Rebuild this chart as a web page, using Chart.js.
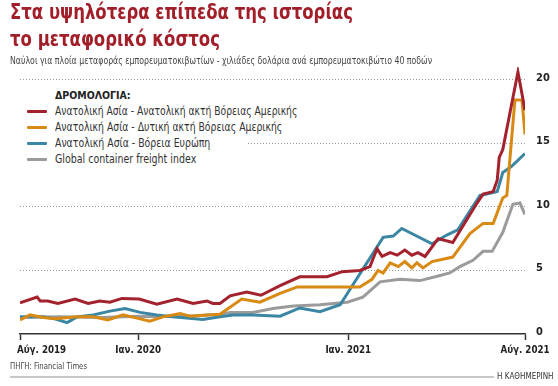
<!DOCTYPE html>
<html>
<head>
<meta charset="utf-8">
<script src="https://cdn.jsdelivr.net/npm/chart.js@4"></script>
<style>
  html, body { margin:0; padding:0; background:#fff; }
  body { width:558px; height:386px; position:relative; overflow:hidden;
         font-family:'DejaVu Sans Condensed','DejaVu Sans',sans-serif; }
  #c { position:absolute; left:0; top:0; }
  .fit { position:absolute; white-space:nowrap; display:inline-block; transform-origin:0 0; }
  .t1, .t2 { left:10px; color:#a21f2a; font-size:21px; line-height:24px; font-weight:bold; }
  .t1 { top:0px; }
  .t2 { top:27px; }
  .sub { left:10px; top:54px; color:#444; font-size:11px; line-height:13px; }
  .legend { position:absolute; left:18px; top:87px; width:230px; height:80px; background:#fff; }
  .legend .hd { position:absolute; left:37px; top:2px; font-size:10.5px; font-weight:bold; color:#222; }
  .legend .it { position:absolute; left:9px; height:15px; white-space:nowrap; background:#fff; }
  .legend .sw { position:absolute; left:0; top:6px; width:20px; height:3px; border-radius:1px; }
  .legend .tx { position:absolute; left:28px; top:0; font-size:11.5px; line-height:15px; color:#333; white-space:nowrap; transform-origin:0 0; background:#fff; padding-right:3px; }
  .src { left:10px; top:361px; font-size:9px; color:#444; }
  .bar { position:absolute; left:10px; top:376px; width:484px; height:2px; background:#c8c8c8; }
  .brand { position:absolute; left:497px; top:372px; font-size:8px; color:#333; }
</style>
</head>
<body>
<canvas id="c" width="558" height="386"></canvas>
<div class="fit t1" data-w="343">Στα υψηλότερα επίπεδα της ιστορίας</div>
<div class="fit t2" data-w="210">το μεταφορικό κόστος</div>
<div class="fit sub" data-w="422">Ναύλοι για πλοία μεταφοράς εμπορευματοκιβωτίων - χιλιάδες δολάρια ανά εμπορευματοκιβώτιο 40 ποδών</div>
<div class="legend" id="legend"><div class="hd">ΔΡΟΜΟΛΟΓΙΑ:</div></div>
<div class="fit src" data-w="77">ΠΗΓΗ: Financial Times</div>
<div class="bar"></div>
<div class="brand">Η ΚΑΘΗΜΕΡΙΝΗ</div>
<script>
// Time position on the horizontal axis (0 = Aug 2019, 100 = Aug 2021), values in thousand USD per 40ft container
const seriesNames = [
  'Ανατολική Ασία - Ανατολική ακτή Βόρειας Αμερικής',
  'Ανατολική Ασία - Δυτική ακτή Βόρειας Αμερικής',
  'Ανατολική Ασία - Βόρεια Ευρώπη',
  'Global container freight index'
];
const seriesColors = ['#a3222d', '#d88a14', '#3b87a3', '#9b9b9b'];
const legendWidths = [245, 230, 158, 144];

const eastCoastT = [0,3.4,4.0,5.5,7.5,10.9,13.5,15.8,17.8,20.2,23.6,27.1,31.1,34.3,37.0,38.2,39.6,41.6,44.9,47.7,51.5,55.4,60.8,63.8,67.3,69.3,70.7,71.7,73.3,74.7,76.2,77.6,78.8,80.2,82.8,85.7,90.5,91.7,93.7,94.5,94.9,95.6,98.6,100];
const eastCoast  = [2.45,2.9,2.6,2.6,2.4,2.75,2.4,2.6,2.5,2.8,2.75,2.35,2.75,2.4,2.6,2.4,2.4,3.0,3.3,3.05,3.8,4.5,4.5,4.9,5.0,5.3,6.7,6.1,6.4,6.2,6.6,6.2,6.4,6.1,7.5,7.2,10.3,11.0,11.2,12.1,13.9,14.5,20.6,17.6];

const westCoastT = [0,2.0,4.6,6.9,11.3,14.5,17.4,20.4,23.2,25.7,28.3,31.7,33.7,37.0,39.6,43.9,47.5,51.5,54.9,64.8,67.3,69.7,70.9,71.9,73.3,74.9,76.2,77.6,78.6,79.8,81.6,85.7,89.1,91.7,93.7,95.6,96.4,98.0,99.4,100];
const westCoast  = [1.1,1.5,1.3,1.2,1.35,1.35,1.1,1.5,1.25,1.0,1.35,1.6,1.4,1.5,1.55,2.75,2.5,3.2,3.7,3.7,3.7,4.3,5.0,4.8,5.6,5.3,5.7,5.2,5.6,5.2,5.7,6.05,7.9,8.7,8.7,10.7,10.9,18.4,18.4,15.7];

const northEuropeT = [0,4.6,6.9,9.3,11.3,14.5,17.8,20.8,23.8,27.1,30.3,36.2,39.6,42.2,46.1,51.5,55.4,59.4,63.4,71.9,73.9,75.6,81.6,84.6,86.7,91.1,93.5,94.5,95.6,97.4,100];
const northEurope  = [1.35,1.35,1.2,0.9,1.35,1.5,1.8,2.0,1.7,1.5,1.35,1.15,1.35,1.5,1.5,1.4,2.05,1.75,2.3,7.6,7.7,8.3,7.1,7.8,8.2,10.9,11.1,11.2,12.7,13.2,14.2];

const globalIndexT = [0,7.9,15.8,23.8,31.7,39.6,41.6,46.1,50.1,54.1,59.4,64.8,67.9,71.3,75.2,79.2,83.2,85.1,87.1,89.7,91.7,93.5,95.6,97.6,99.0,100];
const globalIndex  = [1.3,1.35,1.3,1.4,1.35,1.55,1.7,1.7,2.0,2.2,2.3,2.5,2.9,4.1,4.3,4.2,4.6,4.8,5.3,5.8,6.5,6.5,8.0,10.2,10.3,9.4];

const xTickPos = [0, 23.4, 65, 100];
const xTickLabels = ['Αύγ. 2019', 'Ιαν. 2020', 'Ιαν. 2021', 'Αύγ. 2021'];
const yTickValues = [0, 5, 10, 15, 20];

const tList = [eastCoastT, westCoastT, northEuropeT, globalIndexT];
const vList = [eastCoast, westCoast, northEurope, globalIndex];

const FONT = "'DejaVu Sans Condensed','DejaVu Sans',sans-serif";

function fitWidth(el, w) {
  el.style.transform = 'none';
  const nat = el.getBoundingClientRect().width;
  if (nat > 0) el.style.transform = 'scaleX(' + (w / nat) + ')';
}

// HTML legend
const lg = document.getElementById('legend');
seriesNames.forEach((n, i) => {
  const d = document.createElement('div');
  d.className = 'it';
  d.style.top = (17 + i * 16) + 'px';
  d.innerHTML = '<span class="sw" style="background:' + seriesColors[i] + '"></span><span class="tx">' + n + '</span>';
  lg.appendChild(d);
  fitWidth(d.querySelector('.tx'), legendWidths[i]);
});
document.querySelectorAll('.fit').forEach(el => fitWidth(el, +el.dataset.w));

const xLabelPlugin = {
  id: 'xLabels',
  afterDraw(chart) {
    const sc = chart.scales.x;
    const ctx = chart.ctx;
    ctx.save();
    ctx.font = 'bold 11px ' + FONT;
    ctx.fillStyle = '#222';
    ctx.textBaseline = 'middle';
    xTickPos.forEach((v, i) => {
      const px = sc.getPixelForValue(v);
      const w = ctx.measureText(xTickLabels[i]).width;
      const s = 0.88;
      ctx.save();
      const x0 = i === 0 ? px - 3 : px - w * s / 2;
      ctx.translate(x0, sc.top + 16);
      ctx.scale(s, 1);
      ctx.textAlign = 'left';
      ctx.fillText(xTickLabels[i], 0, 0);
      ctx.restore();
    });
    ctx.restore();
  }
};

new Chart(document.getElementById('c'), {
  type: 'line',
  data: {
    datasets: seriesNames.map((n, i) => ({
      label: n,
      data: tList[i].map((t, k) => ({ x: t, y: vList[i][k] })),
      borderColor: seriesColors[i],
      borderWidth: 3,
      pointRadius: 0,
      tension: 0,
      fill: false
    }))
  },
  options: {
    responsive: false,
    animation: false,
    devicePixelRatio: 1,
    layout: { padding: { left: 20, right: 0, top: 67, bottom: 0 } },
    plugins: { legend: { display: false }, tooltip: { enabled: false } },
    scales: {
      x: {
        type: 'linear', min: 0, max: 100,
        afterBuildTicks: s => { s.ticks = xTickPos.map(v => ({ value: v })); },
        afterFit: s => { s.height = 52; },
        ticks: { display: false },
        grid: { drawOnChartArea: false, drawTicks: true, tickLength: 6, tickColor: '#333', tickWidth: 1.5, color: '#333' },
        border: { display: true, color: '#333', width: 1.5 }
      },
      y: {
        position: 'right', min: 0, max: 21,
        afterBuildTicks: s => { s.ticks = yTickValues.map(v => ({ value: v })); },
        afterFit: s => { s.width = 33; },
        ticks: { padding: 11, labelOffset: -2, color: '#222', font: { family: FONT, size: 11, weight: 'bold' } },
        grid: { drawTicks: false, color: c => c.tick && c.tick.value === 0 ? 'rgba(0,0,0,0)' : '#9a9a9a', lineWidth: 1, borderDash: [1, 2] },
        border: { display: false, dash: [1, 2] }
      }
    }
  },
  plugins: [xLabelPlugin]
});
</script>
</body>
</html>
